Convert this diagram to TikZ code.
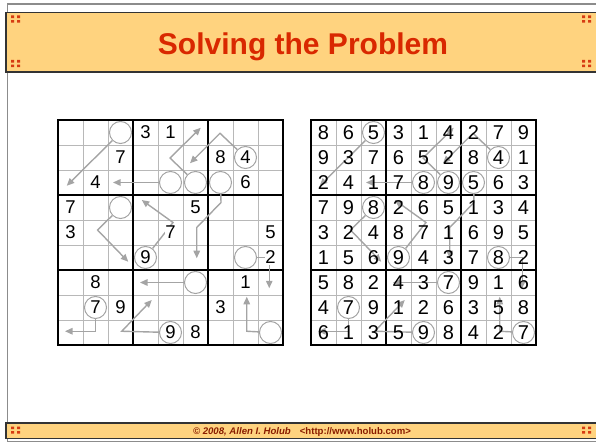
\documentclass[tikz,border=0pt]{standalone}
\usepackage{fontspec}
\setmainfont{Liberation Sans}
\usetikzlibrary{arrows.meta}
\definecolor{hbBand}{HTML}{FFD37F}
\definecolor{hbRed}{HTML}{D92800}
\definecolor{hbDot}{HTML}{D63C12}
\definecolor{hbFoot}{HTML}{8A1C00}
\definecolor{hbGrey}{HTML}{A4A4A4}
\definecolor{hbLine}{HTML}{B8B8B8}
\definecolor{hbFrame}{HTML}{8C8C8C}

% 9x9 board in cell units
\newcommand\hbboard{%
  \foreach \i in {1,...,8} {
    \draw[cellline] (\i,0) -- (\i,9);
    \draw[cellline] (0,\i) -- (9,\i);
  }
  \foreach \i in {3,6} {
    \draw[boxline] (\i,0) -- (\i,9);
    \draw[boxline] (0,\i) -- (9,\i);
  }
  \draw[boxline] (0,0) rectangle (9,9);
}
% circled cells
\newcommand\hbrings[1]{%
  \foreach \r/\c in {0/2,1/7,2/4,2/5,2/6,3/2,5/3,5/7,6/5,7/1,8/4,8/8}
    \node[ring] (#1-\r-\c) at (\c+0.5,\r+0.5) {};
}
% chains of deductions
\newcommand\hbpaths[1]{%
  \draw[hint,->] (#1-0-2) -- (0.35,2.63);
  \draw[hint,->] (#1-2-4) -- (2.2,2.5);
  \draw[hint,->] (#1-2-5) -- (4.48,1.52) -- (5.71,0.31);
  \draw[hint,->] (#1-1-7) -- (6.48,0.53) -- (5.28,1.73);
  \draw[hint,->] (#1-2-6) -- (6.52,3.3) -- (5.55,4.3) -- (5.55,5.53);
  \draw[hint,->] (#1-3-2) -- (1.58,4.4) -- (2.81,5.67);
  \draw[hint,->] (#1-5-3) -- (4.6,4.1) -- (3.35,3.2);
  \draw[hint,->] (#1-5-7) -- (8.45,5.5) -- (8.45,6.73);
  \draw[hint,->] (#1-6-5) -- (3.28,6.5);
  \draw[hint,->] (#1-8-8) -- (7.55,8.45) -- (7.55,7.07);
  \draw[hint,->] (#1-7-1) -- (1.5,8.45) -- (0.28,8.45);
  \draw[hint,->] (#1-8-4) -- (2.55,8.45) -- (3.75,7.2);
}
% corner marks
\newcommand\hbdots[2]{%
  \fill[hbDot] (#1,#2) rectangle ++(3.2,2.6) (#1+6,#2) rectangle ++(3.2,2.6)
    (#1,#2+4.6) rectangle ++(3.2,2.6) (#1+6,#2+4.6) rectangle ++(3.2,2.6);
}

\begin{document}
\begin{tikzpicture}[x=1pt,y=-1pt,
  >={Triangle[length=7.5pt,width=6.5pt]},
  band/.style={fill=hbBand,draw=black!80,line width=1.1pt},
  frame/.style={draw=hbFrame,line width=1.3pt},
  cellline/.style={draw=hbLine,line width=0.8pt},
  boxline/.style={draw=black,line width=2.5pt,line cap=square},
  ring/.style={circle,draw=hbGrey,line width=1pt,minimum size=22pt,inner sep=0pt},
  hint/.style={draw=hbGrey,line width=1.4pt},
  digit/.style={font=\fontsize{18.5}{18.5}\selectfont,inner sep=0.6pt},
  given/.style={digit,fill=white},
  answer/.style={digit,font=\fontsize{20}{20}\selectfont},
]
\useasboundingbox (0,0) rectangle (596,443);

% slide frame and bands
\draw[frame] (596,4) -- (7.5,4) -- (7.5,441.5) -- (596,441.5);
\draw[band] (6,12.5) rectangle (600,72);
\draw[band] (6,423) rectangle (600,438.5);
\foreach \x in {11,582} {
  \hbdots{\x}{15.5}
  \hbdots{\x}{60}
  \hbdots{\x}{426.5}
}
\node[anchor=base,text=hbRed,font=\fontsize{30}{30}\selectfont\bfseries] (title)
  at (303,54.5) {Solving the Problem};
\node[anchor=base,text=hbFoot,font=\fontsize{9.6}{10}\selectfont\bfseries] (foot)
  at (302,434) {\textit{© 2008, Allen I. Holub}\hspace{9pt}<http://www.holub.com>};

% puzzle
\begin{scope}[shift={(58,120)},x=25pt,y=-25pt]
  \hbboard
  \hbrings{L}
  \hbpaths{L}
  \foreach \r/\c/\d in {0/3/3,0/4/1,1/2/7,1/6/8,1/7/4,2/1/4,2/7/6,3/0/7,3/5/5,
      4/0/3,4/4/7,4/8/5,5/3/9,5/8/2,6/1/8,6/7/1,7/1/7,7/2/9,7/6/3,8/4/9,8/5/8}
    \node[given] (Ld-\r-\c) at (\c+0.5,\r+0.5) {\d};
\end{scope}

% solution
\begin{scope}[shift={(311,120)},x=25pt,y=-25pt]
  \hbboard
  \hbrings{R}
  \hbpaths{R}
  \foreach \r/\row in {0/{8,6,5,3,1,4,2,7,9},1/{9,3,7,6,5,2,8,4,1},
      2/{2,4,1,7,8,9,5,6,3},3/{7,9,8,2,6,5,1,3,4},4/{3,2,4,8,7,1,6,9,5},
      5/{1,5,6,9,4,3,7,8,2},6/{5,8,2,4,3,7,9,1,6},7/{4,7,9,1,2,6,3,5,8},
      8/{6,1,3,5,9,8,4,2,7}}
    \foreach \d [count=\c from 0] in \row
      \node[answer] (Rd-\r-\c) at (\c+0.5,\r+0.5) {\d};
\end{scope}
\end{tikzpicture}
\end{document}
